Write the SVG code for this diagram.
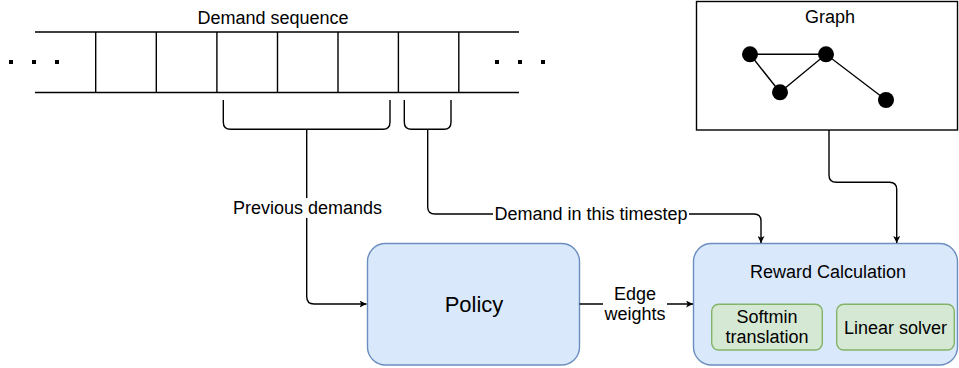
<svg xmlns="http://www.w3.org/2000/svg" width="959" height="368" viewBox="0 0 959 368">
<style>
text{font-family:"Liberation Sans",Arial,Helvetica,sans-serif;font-size:18px;fill:#000;text-anchor:middle;dominant-baseline:central}
.ln{fill:none;stroke:#000;stroke-width:1.4}
.blue{fill:#dae8fc;stroke:#6c8ebf;stroke-width:1.4}
.green{fill:#d5e8d4;stroke:#82b366;stroke-width:1.4}
.bg{fill:#fff;stroke:none}
</style>
<defs>
<marker id="arr" viewBox="0 0 10 10" refX="10" refY="5" markerWidth="7" markerHeight="7" markerUnits="userSpaceOnUse" orient="auto">
<path d="M0,0 L10,5 L0,10 L2.5,5 Z" fill="#000"/>
</marker>
</defs>
<g id="demand-sequence">
<text x="273" y="18">Demand sequence</text>
<path class="ln" d="M35,32 H519 M35,92.5 H519 M95.7,32 V92.5 M156.3,32 V92.5 M216.9,32 V92.5 M277.5,32 V92.5 M338,32 V92.5 M398.4,32 V92.5 M458.8,32 V92.5"/>
<g fill="#000">
<rect x="9" y="60" width="4" height="4"/><rect x="32" y="60" width="4" height="4"/><rect x="55" y="60" width="4" height="4"/>
<rect x="495" y="60" width="4" height="4"/><rect x="518" y="60" width="4" height="4"/><rect x="541" y="60" width="4" height="4"/>
</g>
</g>
<g id="bracket-previous">
<path class="ln" d="M223.3,100 V122 Q223.3,129.3 230.5,129.3 H383 Q390,129.3 390,122 V100"/>
</g>
<g id="bracket-current">
<path class="ln" d="M404.3,100 V122 Q404.3,129.3 411.5,129.3 H444 Q451,129.3 451,122 V100"/>
</g>
<g id="graph">
<rect x="696.5" y="1.5" width="261" height="128.5" fill="#fff" stroke="#000" stroke-width="1.4"/>
<text x="830" y="17">Graph</text>
<path class="ln" d="M750,54.3 L826,54.3 M750,54.3 L780,92.3 L826,54.3 L886,100"/>
<g fill="#000">
<circle cx="750" cy="54.3" r="8"/><circle cx="826" cy="54.3" r="8"/><circle cx="780" cy="92.3" r="8"/><circle cx="886" cy="100" r="8"/>
</g>
</g>
<g id="policy">
<rect class="blue" x="367.5" y="243.5" width="212" height="121.5" rx="18" ry="18"/>
<text x="474" y="304" style="font-size:22px">Policy</text>
</g>
<g id="reward-calculation">
<rect class="blue" x="693.5" y="243.5" width="264" height="121.5" rx="18" ry="18"/>
<text x="828" y="271.5">Reward Calculation</text>
<g id="softmin-translation">
<rect class="green" x="711.7" y="304.3" width="110.6" height="45.7" rx="7" ry="7"/>
<text x="767" y="317">Softmin</text>
<text x="767" y="337">translation</text>
</g>
<g id="linear-solver">
<rect class="green" x="836.7" y="304.3" width="117.6" height="45.7" rx="7" ry="7"/>
<text x="895.5" y="327.5">Linear solver</text>
</g>
</g>
<g id="connectors">
<path class="ln" d="M306.7,129.3 V296.5 Q306.7,304 314,304 H366.5" marker-end="url(#arr)"/>
<rect class="bg" x="232" y="198" width="150" height="20"/>
<text x="307.5" y="208">Previous demands</text>
<path class="ln" d="M427.7,129.3 V207 Q427.7,214 435,214 H754 Q761,214 761,221 V243" marker-end="url(#arr)"/>
<rect class="bg" x="493" y="204" width="196" height="20"/>
<text x="591" y="214">Demand in this timestep</text>
<path class="ln" d="M829,130 V175 Q829,182.3 836.5,182.3 H889.5 Q896.7,182.3 896.7,189.5 V243" marker-end="url(#arr)"/>
<path class="ln" d="M579.5,304 H693" marker-end="url(#arr)"/>
<rect class="bg" x="603" y="284" width="64" height="40"/>
<text x="635" y="294">Edge</text>
<text x="635" y="314">weights</text>
</g>
</svg>
